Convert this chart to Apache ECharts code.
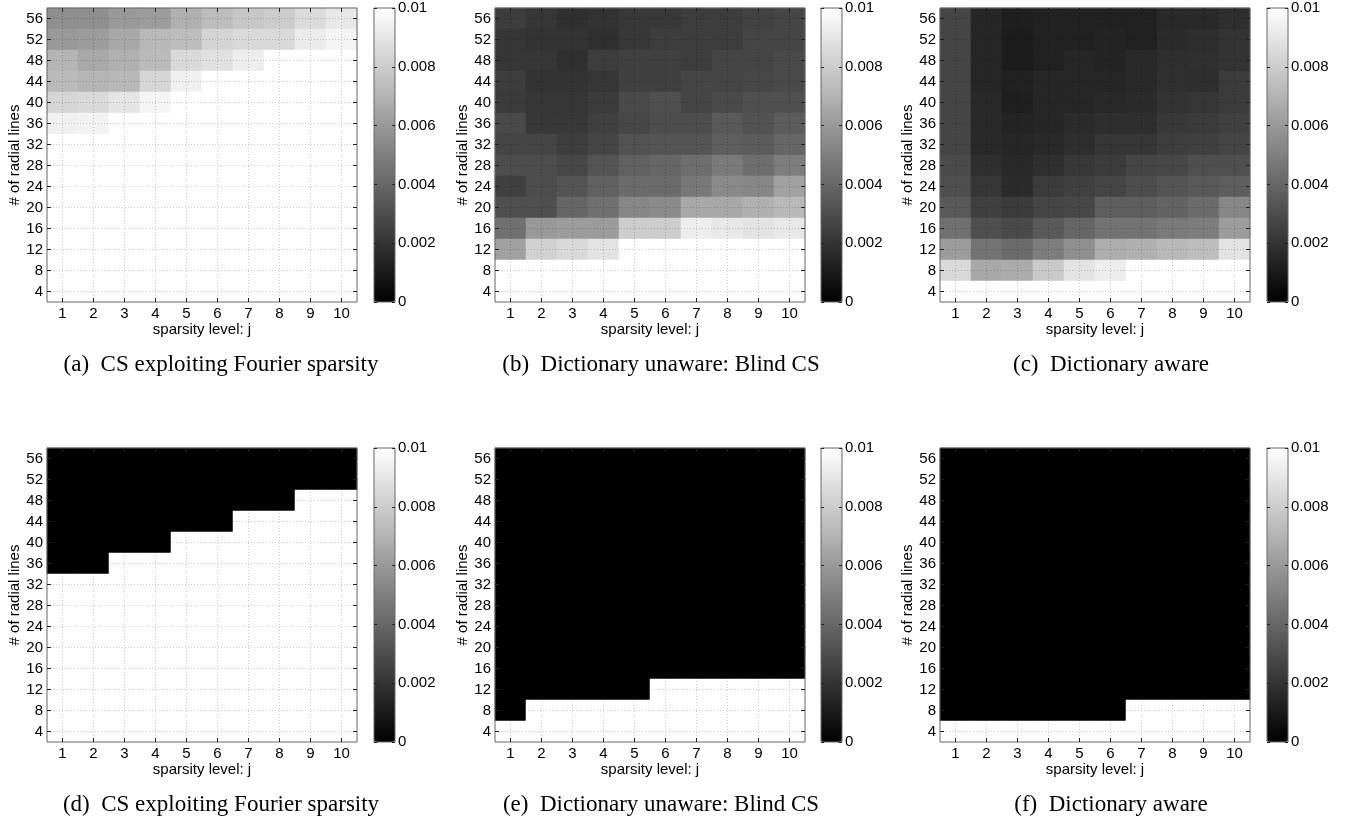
<!DOCTYPE html>
<html>
<head>
<meta charset="utf-8">
<script src="https://cdn.jsdelivr.net/npm/echarts@6/dist/echarts.min.js"></script>
<style>
  html, body { margin: 0; padding: 0; background: #fff; }
  #main { width: 1348px; height: 823px; }
</style>
</head>
<body>
<div id="main"></div>
<script>
// axes
const sparsity = [1, 2, 3, 4, 5, 6, 7, 8, 9, 10];
const radialLines = [4, 8, 12, 16, 20, 24, 28, 32, 36, 40, 44, 48, 52, 56];
const colorTicks = [0, 0.002, 0.004, 0.006, 0.008, 0.01];

const captions = [
  '(a)  CS exploiting Fourier sparsity',
  '(b)  Dictionary unaware: Blind CS',
  '(c)  Dictionary aware',
  '(d)  CS exploiting Fourier sparsity',
  '(e)  Dictionary unaware: Blind CS',
  '(f)  Dictionary aware'
];

// error maps, rows from 56 radial lines (top) down to 4, columns j = 1..10
const errFourier = [
  [.0056, .0056, .0060, .0061, .0069, .0074, .0078, .0080, .0086, .0091],
  [.0060, .0061, .0066, .0072, .0074, .0083, .0085, .0085, .0092, .0096],
  [.0071, .0066, .0069, .0073, .0085, .0088, .0093, .0100, .0100, .0100],
  [.0073, .0071, .0072, .0084, .0094, .0100, .0100, .0100, .0100, .0100],
  [.0084, .0085, .0090, .0096, .0100, .0100, .0100, .0100, .0100, .0100],
  [.0094, .0095, .0100, .0100, .0100, .0100, .0100, .0100, .0100, .0100],
  [.0100, .0100, .0100, .0100, .0100, .0100, .0100, .0100, .0100, .0100],
  [.0100, .0100, .0100, .0100, .0100, .0100, .0100, .0100, .0100, .0100],
  [.0100, .0100, .0100, .0100, .0100, .0100, .0100, .0100, .0100, .0100],
  [.0100, .0100, .0100, .0100, .0100, .0100, .0100, .0100, .0100, .0100],
  [.0100, .0100, .0100, .0100, .0100, .0100, .0100, .0100, .0100, .0100],
  [.0100, .0100, .0100, .0100, .0100, .0100, .0100, .0100, .0100, .0100],
  [.0100, .0100, .0100, .0100, .0100, .0100, .0100, .0100, .0100, .0100],
  [.0100, .0100, .0100, .0100, .0100, .0100, .0100, .0100, .0100, .0100]
];

const errBlind = [
  [.0024, .0021, .0019, .0020, .0022, .0022, .0024, .0024, .0026, .0027],
  [.0021, .0020, .0020, .0019, .0022, .0024, .0024, .0024, .0027, .0027],
  [.0021, .0021, .0019, .0024, .0025, .0025, .0024, .0027, .0027, .0029],
  [.0024, .0020, .0020, .0021, .0025, .0025, .0027, .0027, .0028, .0029],
  [.0023, .0021, .0021, .0023, .0029, .0031, .0027, .0029, .0031, .0031],
  [.0029, .0022, .0022, .0025, .0028, .0030, .0030, .0035, .0032, .0036],
  [.0027, .0027, .0024, .0027, .0032, .0033, .0033, .0037, .0036, .0040],
  [.0030, .0030, .0028, .0033, .0038, .0040, .0043, .0048, .0043, .0049],
  [.0025, .0030, .0033, .0038, .0042, .0042, .0047, .0054, .0053, .0063],
  [.0031, .0031, .0040, .0044, .0053, .0054, .0066, .0066, .0069, .0072],
  [.0044, .0060, .0061, .0061, .0080, .0080, .0093, .0091, .0089, .0091],
  [.0063, .0082, .0085, .0089, .0100, .0100, .0100, .0100, .0100, .0100],
  [.0100, .0100, .0100, .0100, .0100, .0100, .0100, .0100, .0100, .0100],
  [.0100, .0100, .0100, .0100, .0100, .0100, .0100, .0100, .0100, .0100]
];

const errAware = [
  [.0027, .0015, .0012, .0013, .0013, .0013, .0013, .0016, .0016, .0018],
  [.0027, .0015, .0011, .0013, .0013, .0014, .0013, .0017, .0018, .0020],
  [.0027, .0015, .0011, .0013, .0015, .0014, .0016, .0018, .0019, .0020],
  [.0027, .0015, .0013, .0015, .0015, .0015, .0016, .0019, .0018, .0023],
  [.0027, .0016, .0012, .0015, .0015, .0016, .0017, .0020, .0021, .0023],
  [.0027, .0016, .0014, .0015, .0017, .0018, .0018, .0022, .0023, .0025],
  [.0027, .0016, .0015, .0016, .0018, .0021, .0021, .0024, .0025, .0027],
  [.0029, .0018, .0016, .0018, .0022, .0023, .0027, .0028, .0031, .0031],
  [.0031, .0021, .0017, .0023, .0025, .0027, .0030, .0033, .0035, .0037],
  [.0035, .0025, .0023, .0027, .0028, .0037, .0037, .0039, .0042, .0053],
  [.0044, .0031, .0029, .0035, .0040, .0045, .0045, .0048, .0049, .0061],
  [.0061, .0045, .0042, .0049, .0056, .0068, .0069, .0072, .0074, .0089],
  [.0085, .0066, .0067, .0079, .0089, .0093, .0100, .0100, .0100, .0100],
  [.0100, .0100, .0100, .0100, .0100, .0100, .0100, .0100, .0100, .0100]
];

// thresholded maps (0 = success, 0.01 = failure)
const B = 0, W = 0.01;
const succFourier = [
  [B, B, B, B, B, B, B, B, B, B],
  [B, B, B, B, B, B, B, B, B, B],
  [B, B, B, B, B, B, B, B, W, W],
  [B, B, B, B, B, B, W, W, W, W],
  [B, B, B, B, W, W, W, W, W, W],
  [B, B, W, W, W, W, W, W, W, W],
  [W, W, W, W, W, W, W, W, W, W],
  [W, W, W, W, W, W, W, W, W, W],
  [W, W, W, W, W, W, W, W, W, W],
  [W, W, W, W, W, W, W, W, W, W],
  [W, W, W, W, W, W, W, W, W, W],
  [W, W, W, W, W, W, W, W, W, W],
  [W, W, W, W, W, W, W, W, W, W],
  [W, W, W, W, W, W, W, W, W, W]
];
const succBlind = [
  [B, B, B, B, B, B, B, B, B, B],
  [B, B, B, B, B, B, B, B, B, B],
  [B, B, B, B, B, B, B, B, B, B],
  [B, B, B, B, B, B, B, B, B, B],
  [B, B, B, B, B, B, B, B, B, B],
  [B, B, B, B, B, B, B, B, B, B],
  [B, B, B, B, B, B, B, B, B, B],
  [B, B, B, B, B, B, B, B, B, B],
  [B, B, B, B, B, B, B, B, B, B],
  [B, B, B, B, B, B, B, B, B, B],
  [B, B, B, B, B, B, B, B, B, B],
  [B, B, B, B, B, W, W, W, W, W],
  [B, W, W, W, W, W, W, W, W, W],
  [W, W, W, W, W, W, W, W, W, W]
];
const succAware = [
  [B, B, B, B, B, B, B, B, B, B],
  [B, B, B, B, B, B, B, B, B, B],
  [B, B, B, B, B, B, B, B, B, B],
  [B, B, B, B, B, B, B, B, B, B],
  [B, B, B, B, B, B, B, B, B, B],
  [B, B, B, B, B, B, B, B, B, B],
  [B, B, B, B, B, B, B, B, B, B],
  [B, B, B, B, B, B, B, B, B, B],
  [B, B, B, B, B, B, B, B, B, B],
  [B, B, B, B, B, B, B, B, B, B],
  [B, B, B, B, B, B, B, B, B, B],
  [B, B, B, B, B, B, B, B, B, B],
  [B, B, B, B, B, B, W, W, W, W],
  [W, W, W, W, W, W, W, W, W, W]
];

const maps = [errFourier, errBlind, errAware, succFourier, succBlind, succAware];

// panel layout (pixels); 31 px columns and 21 px rows keep cell edges on whole pixels
const panels = [
  { left: 47,  top: 8,   cb: 374,  capX: 221,  capY: 365 },
  { left: 495, top: 8,   cb: 821,  capX: 661,  capY: 365 },
  { left: 940, top: 8,   cb: 1267, capX: 1111, capY: 365 },
  { left: 47,  top: 448, cb: 374,  capX: 221,  capY: 805 },
  { left: 495, top: 448, cb: 821,  capX: 661,  capY: 805 },
  { left: 940, top: 448, cb: 1267, capX: 1111, capY: 805 }
];
const plotW = 310, plotH = 294, cbW = 21;

const sans = 'Liberation Sans, Arial, sans-serif';
const serif = 'Liberation Serif, Times New Roman, serif';
const frame = '#666';
const tickColor = '#222';

const grid = [], xAxis = [], yAxis = [], series = [], visualMap = [], graphic = [];

panels.forEach(function (p, i) {
  const g = grid.length;
  grid.push({ left: p.left, top: p.top, width: plotW, height: plotH, show: true,
    backgroundColor: 'transparent', borderColor: frame, borderWidth: 1, z: 5 });
  grid.push({ left: p.cb, top: p.top, width: cbW, height: plotH, show: true,
    backgroundColor: 'transparent', borderColor: frame, borderWidth: 1, z: 5 });

  const tick = { show: true, inside: true, alignWithLabel: true, length: 4, lineStyle: { color: tickColor } };
  const xi = xAxis.length, yi = yAxis.length;

  xAxis.push({
    gridIndex: g, type: 'category', data: sparsity, position: 'bottom', z: 6,
    axisLine: { show: false }, axisTick: tick, splitLine: { show: false },
    axisLabel: { color: '#000', fontSize: 15, fontFamily: sans, margin: 4 },
    name: 'sparsity level: j', nameLocation: 'middle', nameGap: 16,
    nameTextStyle: { color: '#000', fontSize: 15, fontFamily: sans }
  });
  xAxis.push({
    gridIndex: g, type: 'category', data: sparsity, position: 'top', z: 6,
    axisLine: { show: false }, axisTick: tick, axisLabel: { show: false }, splitLine: { show: false }
  });
  yAxis.push({
    gridIndex: g, type: 'category', data: radialLines, position: 'left', z: 6,
    axisLine: { show: false }, axisTick: tick, splitLine: { show: false },
    axisLabel: { color: '#000', fontSize: 15, fontFamily: sans, margin: 4 },
    name: '# of radial lines', nameLocation: 'middle', nameGap: 21, nameRotate: 90,
    nameTextStyle: { color: '#000', fontSize: 15, fontFamily: sans }
  });
  yAxis.push({
    gridIndex: g, type: 'category', data: radialLines, position: 'right', z: 6,
    axisLine: { show: false }, axisTick: tick, axisLabel: { show: false }, splitLine: { show: false }
  });

  // colorbar axes
  xAxis.push({ gridIndex: g + 1, type: 'value', min: 0, max: 1, show: false });
  const cbTick = { show: true, inside: true, length: 3, lineStyle: { color: tickColor } };
  yAxis.push({
    gridIndex: g + 1, type: 'value', min: colorTicks[0], max: colorTicks[colorTicks.length - 1],
    interval: 0.002, position: 'left', z: 6,
    axisLine: { show: false }, axisTick: cbTick, axisLabel: { show: false }, splitLine: { show: false }
  });
  yAxis.push({
    gridIndex: g + 1, type: 'value', min: colorTicks[0], max: colorTicks[colorTicks.length - 1],
    interval: 0.002, position: 'right', z: 6,
    axisLine: { show: false }, axisTick: cbTick, splitLine: { show: false },
    axisLabel: { color: '#000', fontSize: 15, fontFamily: sans, margin: 3,
      formatter: function (v) { return String(+v.toFixed(3)); } }
  });

  const m = maps[i];
  const data = [];
  m.forEach(function (row, r) {
    row.forEach(function (v, c) {
      data.push([c, radialLines.length - 1 - r, v]);
    });
  });

  const gridLines = sparsity.map(function (s, k) { return { xAxis: k }; })
    .concat(radialLines.map(function (s, k) { return { yAxis: k }; }));

  series.push({
    type: 'heatmap', xAxisIndex: xi, yAxisIndex: yi, data: data,
    itemStyle: { borderWidth: 0 },
    emphasis: { disabled: true },
    animation: false,
    markLine: {
      silent: true, symbol: 'none', animation: false,
      label: { show: false },
      lineStyle: { color: 'rgba(0,0,0,0.2)', type: [1, 2], width: 1 },
      emphasis: { disabled: true },
      data: gridLines
    }
  });

  visualMap.push({
    type: 'continuous', seriesIndex: i, min: 0, max: 0.01,
    left: p.cb, top: p.top, itemWidth: cbW, itemHeight: plotH, padding: 0,
    calculable: false, hoverLink: false, text: null, orient: 'vertical', z: 3,
    inRange: { color: ['#000000', '#ffffff'] },
    outOfRange: { color: '#ffffff' }
  });

  graphic.push({
    type: 'text', x: p.capX, y: p.capY, silent: true,
    style: { text: captions[i], fill: '#000', font: '23px ' + serif, textAlign: 'center', textVerticalAlign: 'middle' }
  });
});

const chart = echarts.init(document.getElementById('main'), null, { renderer: 'canvas' });
chart.setOption({
  animation: false,
  backgroundColor: '#fff',
  grid: grid,
  xAxis: xAxis,
  yAxis: yAxis,
  visualMap: visualMap,
  series: series,
  graphic: graphic
});
</script>
</body>
</html>
